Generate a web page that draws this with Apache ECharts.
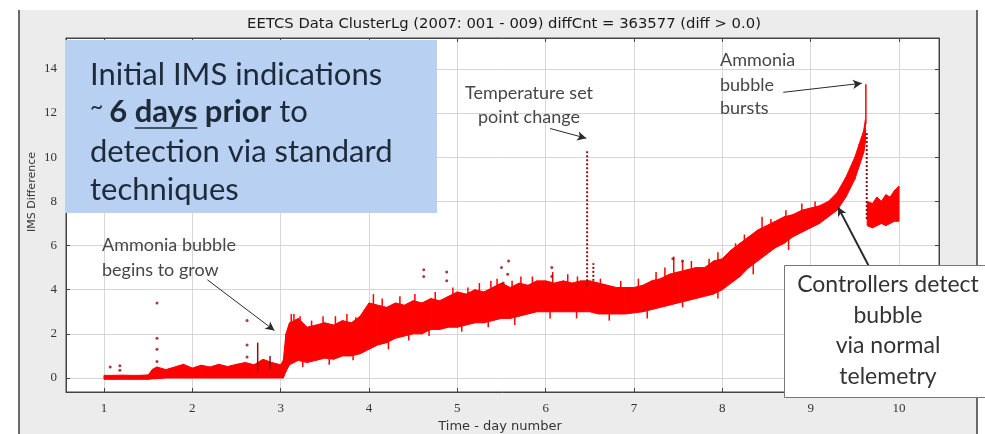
<!DOCTYPE html>
<html>
<head>
<meta charset="utf-8">
<script src="https://cdn.jsdelivr.net/npm/echarts@6/dist/echarts.min.js"></script>
<style>
html, body { margin: 0; padding: 0; background: #fff; }
#chart { width: 985px; height: 434px; }
</style>
</head>
<body>
<div id="chart"></div>
<script>
const bandDays = [1.0, 1.1, 1.2, 1.3, 1.4, 1.5, 1.55, 1.6, 1.7, 1.8, 1.9, 2.0, 2.1, 2.2, 2.3, 2.4, 2.5, 2.6, 2.7, 2.8, 2.9, 3.0, 3.03, 3.06,
	3.1, 3.2, 3.3, 3.4, 3.5, 3.6, 3.7, 3.8, 3.9, 4.0, 4.1, 4.2, 4.3, 4.4, 4.5, 4.6, 4.7, 4.8, 4.9, 5.0, 5.1, 5.2, 5.3, 5.4, 5.5, 5.6, 5.7, 5.8, 5.9,
	6.0, 6.1, 6.2, 6.3, 6.4, 6.5, 6.6, 6.7, 6.8, 6.9, 7.0, 7.1, 7.2, 7.3, 7.4, 7.5, 7.6, 7.7, 7.8, 7.9, 8.0, 8.1, 8.2, 8.3, 8.4, 8.5, 8.6, 8.7,
	8.8, 8.9, 9.0, 9.1, 9.2, 9.3, 9.4, 9.5, 9.55, 9.6, 9.62];
const bandLow = [-0.06, -0.06, -0.06, -0.06, -0.06, -0.06, -0.04, -0.03, 0.0, 0.0, 0.0, 0.0, 0.0, 0.0, 0.0, 0.0, 0.0, 0.0, 0.0, 0.0, 0.0, 0.0, 0.0, 0.3,
	0.6, 0.8, 0.7, 0.8, 0.9, 0.85, 1.0, 1.0, 1.1, 1.3, 1.5, 1.6, 1.8, 1.9, 2.0, 2.0, 2.2, 2.2, 2.3, 2.3, 2.4, 2.5, 2.5, 2.6, 2.7, 2.7, 2.8, 2.9, 3.0,
	3.0, 3.0, 3.0, 3.0, 3.0, 3.0, 2.9, 2.9, 2.9, 2.9, 2.95, 3.0, 3.1, 3.2, 3.3, 3.4, 3.5, 3.6, 3.7, 3.8, 4.0, 4.3, 4.6, 5.0, 5.3, 5.6, 5.9, 6.1,
	6.4, 6.6, 6.8, 7.0, 7.3, 7.6, 8.2, 9.0, 9.6, 10.2, 10.7];
const bandHigh = [0.12, 0.12, 0.13, 0.12, 0.12, 0.14, 0.4, 0.5, 0.38, 0.5, 0.62, 0.45, 0.58, 0.5, 0.62, 0.52, 0.62, 0.7, 0.6, 0.85, 0.7, 0.6, 0.8, 2.0,
	2.5, 2.7, 2.3, 2.4, 2.5, 2.4, 2.6, 2.5, 2.8, 3.4, 3.3, 3.2, 3.4, 3.3, 3.5, 3.4, 3.6, 3.5, 3.7, 3.9, 3.8, 4.0, 3.9, 4.1, 4.3, 4.1, 4.3, 4.2, 4.4,
	4.4, 4.3, 4.4, 4.3, 4.4, 4.4, 4.3, 4.2, 4.1, 4.1, 4.1, 4.2, 4.4, 4.5, 4.7, 4.8, 4.9, 5.0, 5.0, 5.3, 5.4, 5.8, 6.1, 6.4, 6.7, 6.9, 7.1, 7.3,
	7.4, 7.6, 7.7, 7.8, 8.0, 8.4, 9.1, 10.0, 10.6, 11.2, 11.7];

// after the bubble burst
const afterDays = [9.64, 9.7, 9.75, 9.8, 9.85, 9.9, 9.95, 10.0];
const afterLow = [6.9, 6.8, 6.9, 7.0, 6.9, 7.0, 7.1, 7.1];
const afterHigh = [8.0, 7.9, 8.2, 8.0, 8.3, 8.2, 8.5, 8.7];

// thin vertical jumps of the trace (ragged edges): day, from, to
const spikeDays = [2.74, 2.88, 3.12, 3.15, 3.22, 3.25, 3.35, 3.48, 3.55, 3.62, 3.75, 3.82, 3.85, 3.95, 4.05, 4.15, 4.22, 4.35, 4.45, 4.52,
	4.68, 4.75, 4.95, 5.05, 5.12, 5.25, 5.35, 5.38, 5.45, 5.62, 5.65, 5.72, 5.85, 6.05, 6.08, 6.25, 6.35, 6.36, 6.62, 6.72, 6.85, 7.05, 7.15,
	7.25, 7.35, 7.45, 7.55, 7.55, 7.65, 7.85, 7.95, 7.95, 8.15, 8.25, 8.35, 8.45, 8.55, 8.72, 8.75, 8.9, 9.05, 9.625];
const spikeFrom = [0.3, 0.4, 2.0, 2.3, 2.2, 0.5, 2.0, 2.1, 0.6, 2.2, 2.2, 0.8, 2.2, 2.4, 2.9, 2.9, 1.3, 3.1, 1.7, 3.1,
	1.9, 3.3, 3.4, 2.1, 3.5, 3.6, 2.3, 3.8, 3.8, 3.9, 2.4, 4.0, 4.0, 2.7, 4.2, 4.1, 2.7, 4.0, 4.0, 2.6, 3.8, 3.9, 2.7,
	4.1, 4.2, 4.5, 4.6, 3.2, 4.6, 4.7, 5.0, 3.6, 5.5, 5.8, 4.7, 6.6, 6.6, 7.1, 5.8, 7.3, 7.4, 11.5];
const spikeTo = [1.6, 1.0, 2.9, 2.9, 2.8, 1.0, 2.6, 2.8, 1.2, 2.8, 2.9, 1.3, 2.75, 3.1, 3.8, 3.6, 1.9, 3.7, 2.2, 3.8,
	2.4, 3.9, 4.1, 2.6, 4.1, 4.3, 2.8, 4.4, 4.5, 4.4, 3.0, 4.6, 4.6, 3.3, 4.8, 4.7, 3.2, 4.6, 4.5, 3.1, 4.4, 4.5, 3.3,
	4.8, 5.0, 5.5, 5.3, 3.7, 5.3, 5.4, 5.7, 4.2, 6.1, 6.5, 5.2, 7.3, 7.2, 7.6, 6.4, 7.9, 8.0, 13.3];

// dotted jumps (set point change, burst drop)
const dottedDays = [6.47, 6.54, 9.635];
const dottedFrom = [4.2, 4.4, 7.2];
const dottedTo = [10.3, 5.2, 11.2];

// isolated points
const outlierDays = [1.07, 1.18, 1.18, 1.6, 1.6, 1.6, 1.6, 2.62, 2.62, 2.62, 4.62, 4.62, 4.88, 4.88, 5.5, 5.58, 5.57, 5.52, 6.07, 6.07, 7.44, 7.55];
const outlierValues = [0.5, 0.55, 0.35, 3.4, 1.8, 1.3, 0.75, 2.6, 1.5, 0.95, 4.9, 4.6, 4.8, 4.4, 5.0, 5.3, 4.7, 4.3, 5.0, 4.6, 5.4, 5.3];

const RED = "#ff0000";
const DARK_RED = "#8a1010";

const segments = (days, low, high) => days.slice(0, -1).map((d, i) => [d, low[i], high[i], days[i + 1], low[i + 1], high[i + 1]]);
const bandData = segments(bandDays, bandLow, bandHigh).concat(segments(afterDays, afterLow, afterHigh));
const spikeData = spikeDays.map((d, i) => [d, spikeFrom[i], spikeTo[i]]);
const dottedData = dottedDays.map((d, i) => [d, dottedFrom[i], dottedTo[i]]);
const outlierData = outlierDays.map((d, i) => [d, outlierValues[i]]);

// arrows of the annotations, in data units
const arrows = [
	{ from: [2.17, 4.45], to: [2.93, 2.15], width: 1 },
	{ from: [6.05, 11.3], to: [6.46, 10.86], width: 1 },
	{ from: [8.69, 12.94], to: [9.58, 13.35], width: 1 },
	{ from: [9.67, 4.98], to: [9.31, 7.74], width: 2 },
];

const chart = echarts.init(document.getElementById("chart"), null, { renderer: "canvas" });

const measure = document.createElement("canvas").getContext("2d");
const textWidth = (str, font) => {
	measure.font = font;
	return measure.measureText(str).width;
};

const BIG = 31;
const bigFont = `${BIG}px Lato`;
const bigBold = `bold ${BIG}px Lato`;
const boxText = "#1d2a3a";

// second line of the blue box, built piece by piece
const line2 = [
	{ text: "~ ", font: `${BIG - 8}px Lato` },
	{ text: "6 ", font: bigBold },
	{ text: "days", font: bigBold, underline: true },
	{ text: " prior", font: bigBold },
	{ text: " to", font: bigFont },
];
const line2Elements = [];
let cursor = 90;
for (const part of line2) {
	const w = textWidth(part.text, part.font);
	line2Elements.push({
		type  : "text",
		x     : cursor,
		y     : part.text.startsWith("~") ? 107 : 112,
		z     : 101,
		style : { text: part.text, font: part.font, fill: boxText, textAlign: "left", textVerticalAlign: "middle" },
	});
	if (part.underline)
		line2Elements.push({
			type  : "line",
			z     : 101,
			shape : { x1: cursor, y1: 128, x2: cursor + w, y2: 128 },
			style : { stroke: boxText, lineWidth: 1.5 },
		});
	cursor += w;
}

const noteStyle = (text, align) => ({ text, font: "18px Lato", fill: "#474747", textAlign: align, textVerticalAlign: "middle" });
const ctrlStyle = (text) => ({ text, font: "23px Lato", fill: "#333", textAlign: "center", textVerticalAlign: "middle" });

const graphic = [
	// figure frame
	{ type: "rect", z: -100, shape: { x: 19, y: 10, width: 958, height: 424 }, style: { fill: "#ececec" } },
	{ type: "line", z: -99, shape: { x1: 19, y1: 10, x2: 19, y2: 434 }, style: { stroke: "#6a6a6a", lineWidth: 2 } },
	{ type: "line", z: -99, shape: { x1: 977, y1: 10, x2: 977, y2: 434 }, style: { stroke: "#6a6a6a", lineWidth: 2 } },
	{
		type  : "text", x: 504, y: 24,
		style : { text: "EETCS Data ClusterLg (2007: 001 - 009) diffCnt = 363577 (diff > 0.0)", font: "14.8px 'DejaVu Sans'", fill: "#1a1a1a", textAlign: "center", textVerticalAlign: "middle" },
	},
	{
		type  : "text", x: 32, y: 192, rotation: Math.PI / 2,
		style : { text: "IMS Difference", font: "11px 'DejaVu Sans'", fill: "#333", textAlign: "center", textVerticalAlign: "middle" },
	},
	{
		type  : "text", x: 500, y: 427,
		style : { text: "Time - day number", font: "13px 'DejaVu Sans'", fill: "#333", textAlign: "center", textVerticalAlign: "middle" },
	},

	// blue call-out
	{ type: "rect", z: 100, shape: { x: 65, y: 40, width: 372, height: 173 }, style: { fill: "#b8d0f1" } },
	{ type: "text", x: 90, y: 75, z: 101, style: { text: "Initial IMS indications", font: bigFont, fill: boxText, textAlign: "left", textVerticalAlign: "middle" } },
	...line2Elements,
	{ type: "text", x: 90, y: 152, z: 101, style: { text: "detection via standard", font: bigFont, fill: boxText, textAlign: "left", textVerticalAlign: "middle" } },
	{ type: "text", x: 90, y: 190, z: 101, style: { text: "techniques", font: bigFont, fill: boxText, textAlign: "left", textVerticalAlign: "middle" } },

	// notes
	{ type: "text", x: 102, y: 245, z: 50, style: noteStyle("Ammonia bubble", "left") },
	{ type: "text", x: 102, y: 270, z: 50, style: noteStyle("begins to grow", "left") },
	{ type: "text", x: 529, y: 93, z: 50, style: noteStyle("Temperature set", "center") },
	{ type: "text", x: 529, y: 117, z: 50, style: noteStyle("point change", "center") },
	{ type: "text", x: 720, y: 60, z: 50, style: noteStyle("Ammonia", "left") },
	{ type: "text", x: 720, y: 85, z: 50, style: noteStyle("bubble", "left") },
	{ type: "text", x: 720, y: 108, z: 50, style: noteStyle("bursts", "left") },

	// controllers box
	{ type: "rect", z: 100, shape: { x: 784.5, y: 265.5, width: 205, height: 132 }, style: { fill: "#fff", stroke: "#777", lineWidth: 1 } },
	{ type: "text", x: 888, y: 285, z: 101, style: ctrlStyle("Controllers detect") },
	{ type: "text", x: 888, y: 316, z: 101, style: ctrlStyle("bubble") },
	{ type: "text", x: 888, y: 346, z: 101, style: ctrlStyle("via normal") },
	{ type: "text", x: 888, y: 377, z: 101, style: ctrlStyle("telemetry") },
];

const axisCommon = {
	axisLine : { show: true, onZero: false, lineStyle: { color: "#444", width: 1 } },
	axisTick : { show: true, inside: true, length: 4, lineStyle: { color: "#444" } },
};
const labelFont = { color: "#333", fontFamily: "Liberation Serif", fontSize: 13 };

chart.setOption({
	animation       : false,
	backgroundColor : "#fff",
	graphic         : graphic,
	grid            : {
		left            : 66,
		right           : 46,
		top             : 38,
		bottom          : 42,
		show            : true,
		backgroundColor : "#fff",
		borderColor     : "#444",
		borderWidth     : 1,
		containLabel    : false,
		outerBoundsMode : "none",
	},
	xAxis: [
		{
			type        : "value",
			min         : 0.57,
			max         : 10.453,
			splitNumber : 10,
			minInterval : 1,
			maxInterval : 1,
			...axisCommon,
			axisLabel   : { ...labelFont, margin: 10, showMinLabel: false, showMaxLabel: false },
			splitLine   : { show: true, lineStyle: { color: "#d6d6d6" } },
		},
		{
			type        : "value",
			position    : "top",
			min         : 0.57,
			max         : 10.453,
			splitNumber : 10,
			minInterval : 1,
			maxInterval : 1,
			...axisCommon,
			axisLabel   : { show: false },
			splitLine   : { show: false },
		},
	],
	yAxis: [
		{
			type        : "value",
			min         : -0.634,
			max         : 15.4,
			splitNumber : 8,
			minInterval : 2,
			maxInterval : 2,
			...axisCommon,
			axisLabel   : { ...labelFont, margin: 9, showMinLabel: false, showMaxLabel: false },
			splitLine   : { show: true, lineStyle: { color: "#d6d6d6" } },
		},
		{
			type        : "value",
			position    : "right",
			min         : -0.634,
			max         : 15.4,
			splitNumber : 8,
			minInterval : 2,
			maxInterval : 2,
			...axisCommon,
			axisLabel   : { show: false },
			splitLine   : { show: false },
		},
	],
	series: [
		{
			type       : "custom",
			name       : "band",
			data       : bandData,
			encode     : { x: [0, 3], y: [1, 2, 4, 5] },
			renderItem : (params, api) => ({
				type  : "polygon",
				shape : {
					points: [
						api.coord([api.value(0), api.value(1)]),
						api.coord([api.value(0), api.value(2)]),
						api.coord([api.value(3), api.value(5)]),
						api.coord([api.value(3), api.value(4)]),
					],
				},
				style: { fill: RED, stroke: RED, lineWidth: 1 },
			}),
			z: 3,
		},
		{
			type       : "custom",
			name       : "spikes",
			data       : spikeData,
			encode     : { x: 0, y: [1, 2] },
			renderItem : (params, api) => {
				const a = api.coord([api.value(0), api.value(1)]);
				const b = api.coord([api.value(0), api.value(2)]);
				return {
					type  : "line",
					shape : { x1: a[0], y1: a[1], x2: b[0], y2: b[1] },
					style : { stroke: api.value(0) < 3 ? DARK_RED : RED, lineWidth: 1.5 },
				};
			},
			z: 4,
		},
		{
			type       : "custom",
			name       : "dotted",
			data       : dottedData,
			encode     : { x: 0, y: [1, 2] },
			renderItem : (params, api) => {
				const a = api.coord([api.value(0), api.value(1)]);
				const b = api.coord([api.value(0), api.value(2)]);
				return {
					type  : "line",
					shape : { x1: a[0], y1: a[1], x2: b[0], y2: b[1] },
					style : { stroke: DARK_RED, lineWidth: 2, lineDash: [2, 2] },
				};
			},
			z: 4,
		},
		{
			type       : "scatter",
			name       : "outliers",
			data       : outlierData,
			symbolSize : 3,
			itemStyle  : { color: DARK_RED },
			z          : 5,
			markLine   : {
				silent     : true,
				animation  : false,
				symbol     : ["none", "arrow"],
				symbolSize : [7, 9],
				label      : { show: false },
				data       : arrows.map(a => [
					{ coord: a.from, lineStyle: { color: "#2a2a2a", width: a.width, type: "solid" } },
					{ coord: a.to },
				]),
			},
		},
	],
});
</script>
</body>
</html>
